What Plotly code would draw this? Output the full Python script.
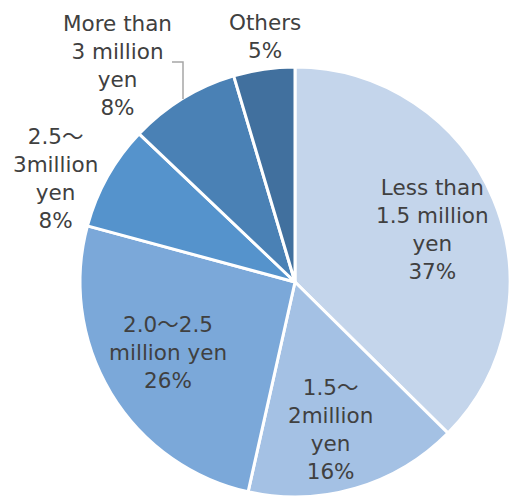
import plotly.graph_objects as go

labels = ["Less than<br>1.5 million<br>yen", "1.5～<br>2million<br>yen", "2.0～2.5<br>million yen",
          "2.5～<br>3million<br>yen", "More than<br>3 million<br>yen", "Others"]
values = [37.4, 16.1, 25.7, 7.9, 8.3, 4.6]
colors = ["#c4d5eb", "#a4c1e4", "#7ba8d9", "#5593cc", "#4a81b5", "#41709e"]

W, H = 510, 497
L, T = 80, 67
S = 430  # plot area size

fig = go.Figure(go.Pie(
    labels=labels, values=values, sort=False, direction="clockwise", rotation=0,
    marker=dict(colors=colors, line=dict(color="white", width=3)),
    textinfo="none", showlegend=False, hoverinfo="label+percent",
))

def px(x):
    return (x - L) / S

def py(y):
    return 1 - (y - T) / S

tilde = '<span style="font-family:Noto Sans CJK JP">～</span>'
label_pos = [(432, 230), (330, 427), (168, 350), (55, 176), (117, 66), (265, 36)]
font = dict(family="DejaVu Sans", size=21.5, color="#404040")
for lab, v, (x, y) in zip(labels, values, label_pos):
    txt = lab.replace("～", tilde) + f"<br>{round(v)}%"
    fig.add_annotation(x=px(x), y=py(y), xref="paper", yref="paper",
                       text=txt, showarrow=False, font=font,
                       xanchor="center", yanchor="middle")

fig.add_shape(type="path", xref="paper", yref="paper",
              path=f"M {px(172)} {py(62)} L {px(183)} {py(62)} L {px(183)} {py(99)}",
              line=dict(color="#a6a6a6", width=1.5))

fig.update_layout(width=W, height=H, margin=dict(l=L, r=0, t=T, b=0),
                  paper_bgcolor="white", plot_bgcolor="white")
fig.write_html("out.html")
